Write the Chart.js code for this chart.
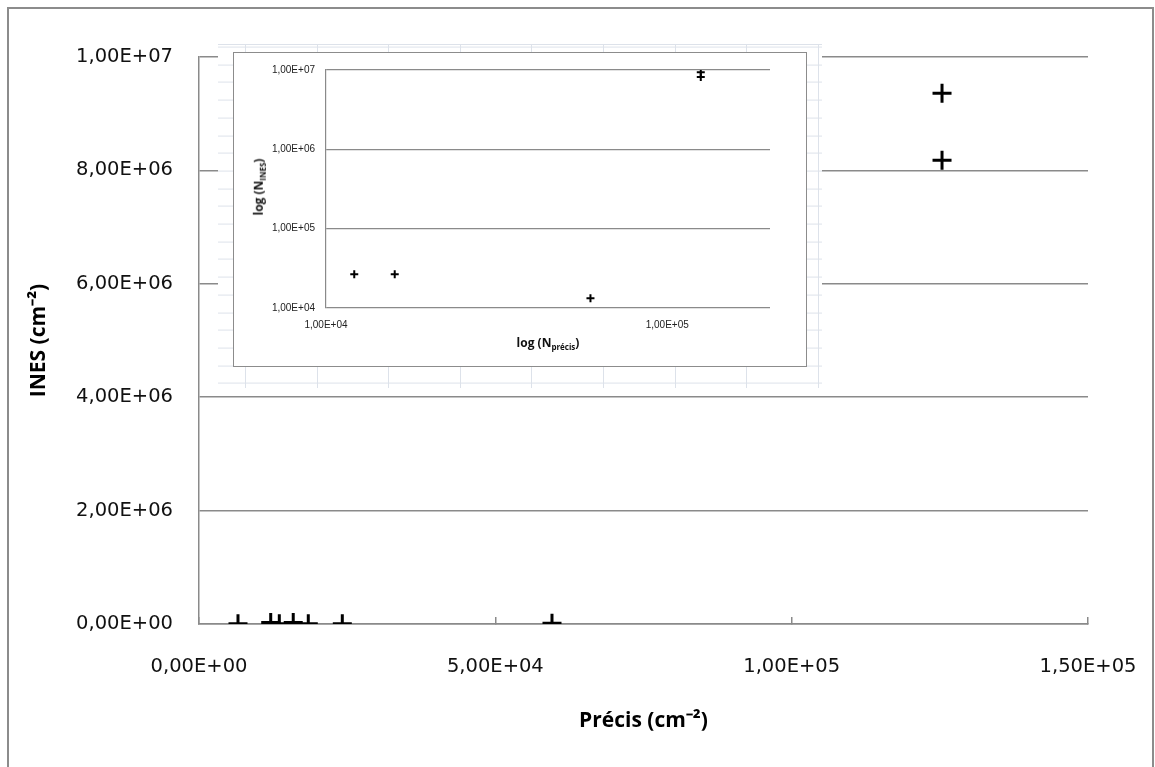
<!DOCTYPE html>
<html>
<head>
<meta charset="utf-8">
<script src="https://cdn.jsdelivr.net/npm/chart.js@4.4.1/dist/chart.umd.min.js"></script>
<style>
  body { margin: 0; background: #fff; }
  #frame { position: absolute; left: 7px; top: 7px; width: 1143px; height: 790px; border: 2px solid #8c8c8c; }
  #mainChart { position: absolute; left: 0; top: 0; }
  #sheet {
    position: absolute; left: 218px; top: 44px; width: 604px; height: 343px;
    background-color: #fff;
    background-image:
      repeating-linear-gradient(to right, transparent 0 27px, #dde2ea 27px 28px, transparent 28px 71.6px),
      repeating-linear-gradient(to bottom, #dde2ea 0 1px, transparent 1px 17.7px);
    background-position: 0 0, 0 1.6px;
    border-top: 1px solid #dde2ea;
  }
  #insetBox { position: absolute; left: 233px; top: 52px; width: 572px; height: 313px; border: 1px solid #8c8c8c; background: #fff; }
  #insetChart { position: absolute; left: 0; top: 0; }
  .insetTitle { position: absolute; font: bold 12px "Open Sans", sans-serif; color: #111; white-space: nowrap; }
  .insetTitle sub { font-size: 8px; }
  #insetY { left: 25px; top: 134px; transform: translate(-50%, -50%) rotate(-90deg); }
  #insetX { left: 314px; top: 290px; transform: translate(-50%, -50%); }
</style>
</head>
<body>
<div id="frame"></div>
<canvas id="mainChart" width="1155" height="767"></canvas>
<div id="sheet"></div>
<div id="insetBox">
  <canvas id="insetChart" width="572" height="313"></canvas>
  <div class="insetTitle" id="insetY">log (N<sub>INES</sub>)</div>
  <div class="insetTitle" id="insetX">log (N<sub>précis</sub>)</div>
</div>
<script>
// values
const precisValues = [6580, 12100, 13550, 15900, 18440, 24180, 59560, 125370, 125370];
const inesValues = [3000, 26700, 3000, 26700, 3000, 3000, 13300, 9360000, 8180000];

const mainXTicks = [0, 50000, 100000, 150000];
const mainYTicks = [0, 2000000, 4000000, 6000000, 8000000, 10000000];
const insetXTicks = [10000, 100000];
const insetYTicks = [10000, 100000, 1000000, 10000000];

const gridGray = '#8a8a8a';

function sci(v) {
    if (v === 0) return '0,00E+00';
    const parts = v.toExponential(2).split('e');
    const n = parseInt(parts[1], 10);
    return parts[0].replace('.', ',') + 'E' + (n < 0 ? '-' : '+') + String(Math.abs(n)).padStart(2, '0');
}

const mainPoints = precisValues.map(function (x, i) {
    return { x: x, y: inesValues[i] };
});
// the log inset only shows what sits above its lower bound
const insetPoints = mainPoints.filter(function (p) {
    return p.y >= insetYTicks[0];
});

new Chart(document.getElementById('mainChart'), {
    type: 'scatter',
    data: {
        datasets: [{
            data: mainPoints,
            pointStyle: 'cross',
            pointRadius: 9.5,
            pointBorderWidth: 3,
            pointBorderColor: '#000',
            pointBackgroundColor: '#000'
        }]
    },
    options: {
        responsive: false,
        animation: false,
        layout: { padding: { left: 0, top: 57, right: 67, bottom: 0 } },
        plugins: { legend: { display: false }, tooltip: { enabled: false } },
        scales: {
            x: {
                type: 'linear',
                min: mainXTicks[0],
                max: mainXTicks[mainXTicks.length - 1],
                afterBuildTicks: function (s) { s.ticks = mainXTicks.map(function (v) { return { value: v }; }); },
                afterFit: function (s) {
                    s.height = 143;
                    // label padding would otherwise push the plot edge in
                    s.paddingLeft = 0;
                    s.paddingRight = 0;
                },
                grid: { drawOnChartArea: false, tickLength: -7, color: gridGray, lineWidth: 1.5 },
                border: { color: gridGray, width: 1.5 },
                ticks: {
                    padding: 38,
                    color: '#111',
                    font: { family: 'DejaVu Sans', size: 19.5 },
                    maxRotation: 0,
                    callback: function (v) { return sci(v); }
                },
                title: {
                    display: true,
                    text: 'Précis (cm⁻²)',
                    color: '#000',
                    font: { family: 'Open Sans', size: 21, weight: 'bold' },
                    padding: { top: 0, bottom: 33 }
                }
            },
            y: {
                type: 'linear',
                min: mainYTicks[0],
                max: mainYTicks[mainYTicks.length - 1],
                afterBuildTicks: function (s) { s.ticks = mainYTicks.map(function (v) { return { value: v }; }); },
                afterFit: function (s) { s.width = 199; },
                grid: { drawTicks: false, color: gridGray, lineWidth: 1.5 },
                border: { color: gridGray, width: 1.5 },
                ticks: {
                    padding: 26,
                    color: '#111',
                    font: { family: 'DejaVu Sans', size: 19.5 },
                    callback: function (v) { return sci(v); }
                },
                title: {
                    display: true,
                    text: 'INES (cm⁻²)',
                    color: '#000',
                    font: { family: 'Open Sans', size: 21, weight: 'bold' },
                    padding: { top: 26, bottom: 0 }
                }
            }
        }
    }
});

new Chart(document.getElementById('insetChart'), {
    type: 'scatter',
    data: {
        datasets: [{
            data: insetPoints,
            pointStyle: 'cross',
            pointRadius: 4,
            pointBorderWidth: 2,
            pointBorderColor: '#000',
            pointBackgroundColor: '#000'
        }]
    },
    options: {
        responsive: false,
        animation: false,
        layout: { padding: { left: 0, top: 13, right: 36, bottom: 0 } },
        plugins: { legend: { display: false }, tooltip: { enabled: false } },
        scales: {
            x: {
                type: 'logarithmic',
                min: 10000,
                max: 200000,
                afterBuildTicks: function (s) { s.ticks = insetXTicks.map(function (v) { return { value: v }; }); },
                afterFit: function (s) { s.height = 58; },
                grid: { display: false },
                border: { display: false },
                ticks: {
                    padding: 3,
                    color: '#222',
                    font: { family: 'Liberation Sans', size: 10 },
                    maxRotation: 0,
                    callback: function (v) { return sci(v); }
                }
            },
            y: {
                type: 'logarithmic',
                min: 10000,
                max: 10000000,
                afterBuildTicks: function (s) { s.ticks = insetYTicks.map(function (v) { return { value: v }; }); },
                afterFit: function (s) { s.width = 92; },
                grid: { drawTicks: false, color: gridGray, lineWidth: 1.2 },
                border: { color: gridGray, width: 1.2 },
                ticks: {
                    padding: 11,
                    color: '#222',
                    font: { family: 'Liberation Sans', size: 10 },
                    callback: function (v) { return sci(v); }
                }
            }
        }
    }
});
</script>
</body>
</html>
